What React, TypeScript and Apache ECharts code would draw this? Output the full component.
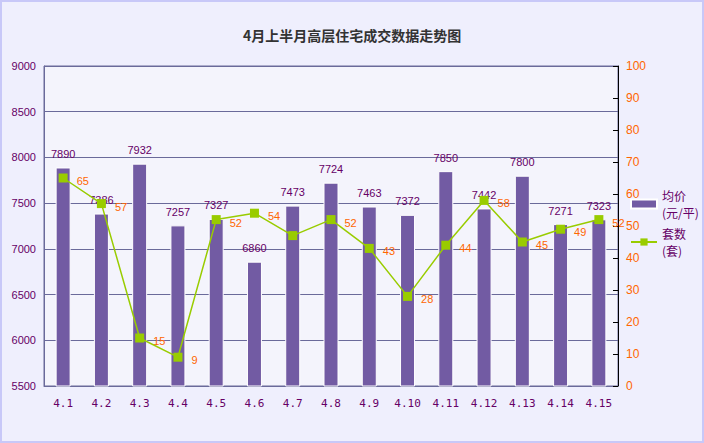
import React, { useEffect, useRef } from "react";
import * as echarts from "echarts";

const categories = ["4.1", "4.2", "4.3", "4.4", "4.5", "4.6", "4.7", "4.8", "4.9", "4.10", "4.11", "4.12", "4.13", "4.14", "4.15"];
const avgPrice = [7890, 7386, 7932, 7257, 7327, 6860, 7473, 7724, 7463, 7372, 7850, 7442, 7800, 7271, 7323];
const units = [65, 57, 15, 9, 52, 54, 47, 52, 43, 28, 44, 58, 45, 49, 52];
const hiddenUnitLabels = [6];

export default function App() {
  const ref = useRef<HTMLDivElement>(null);
  useEffect(() => {
    const chart = echarts.init(ref.current!, null, { renderer: "svg" });
    chart.setOption({
      animation: false,
      backgroundColor: "#EFEFFD",
      title: {
        text: "4月上半月高层住宅成交数据走势图",
        left: "center",
        top: 23,
        textStyle: { fontSize: 14, fontWeight: "bold", color: "#333333", fontFamily: "Noto Sans CJK SC" },
      },
      graphic: [
        {
          type: "rect",
          shape: { x: 1, y: 1, width: 702, height: 441 },
          style: { fill: "none", stroke: "#C8C8F8", lineWidth: 2 },
          silent: true,
        },
      ],
      legend: {
        orient: "vertical",
        left: 625,
        top: 182,
        itemWidth: 26,
        itemHeight: 9,
        itemGap: 4,
        textStyle: { color: "#660066", fontSize: 12, fontFamily: "Noto Sans CJK SC", lineHeight: 17 },
        data: [
          { name: "均价\n(元/平)", icon: "rect" },
          { name: "套数\n(套)" },
        ],
      },
      grid: { left: 44, right: 86, top: 66, bottom: 57, show: true, backgroundColor: "#F4F4FC", borderColor: "#6A6A9A", borderWidth: 1 },
      xAxis: {
        type: "category",
        data: categories,
        axisLine: { lineStyle: { color: "#6A6A9A" } },
        axisTick: { inside: true, length: 5, lineStyle: { color: "#6A6A9A" } },
        axisLabel: { color: "#660066", fontSize: 11, fontFamily: "DejaVu Sans Mono", margin: 12 },
      },
      yAxis: [
        {
          type: "value",
          min: 5500,
          max: 9000,
          interval: 500,
          axisLine: { show: true, lineStyle: { color: "#6A6A9A" } },
          axisTick: { show: false },
          splitLine: { lineStyle: { color: "#6A6A9A", width: 1 } },
          axisLabel: { color: "#660066", fontSize: 11, fontFamily: "Liberation Sans", margin: 8, formatter: (v: number) => String(v) },
        },
        {
          type: "value",
          min: 0,
          max: 100,
          interval: 10,
          position: "right",
          axisLine: { show: true, lineStyle: { color: "#000000" } },
          axisTick: { show: true, inside: true, length: 5, lineStyle: { color: "#000000" } },
          splitLine: { show: false },
          axisLabel: { color: "#FF6600", fontSize: 12, fontFamily: "Liberation Sans", margin: 8 },
        },
      ],
      series: [
        {
          name: "均价\n(元/平)",
          type: "bar",
          data: avgPrice,
          barWidth: 15,
          itemStyle: { color: "#725BA3", borderColor: "#FFFFFF", borderWidth: 1 },
          label: { show: true, position: "top", distance: 8, color: "#660066", fontSize: 11, fontFamily: "Liberation Sans" },
        },
        {
          name: "套数\n(套)",
          type: "line",
          yAxisIndex: 1,
          data: units.map((v, i) => ({ value: v, label: { show: !hiddenUnitLabels.includes(i) } })),
          symbol: "rect",
          symbolSize: 9,
          lineStyle: { color: "#99CC00", width: 1.5 },
          itemStyle: { color: "#99CC00" },
          label: { show: true, position: "right", distance: 9, offset: [0, 3], color: "#FF6600", fontSize: 11, fontFamily: "Liberation Sans" },
          z: 3,
        },
      ],
    });
    return () => chart.dispose();
  }, []);
  return <div ref={ref} style={{ position: "fixed", left: 0, top: 0, width: 704, height: 443 }} />;
}
